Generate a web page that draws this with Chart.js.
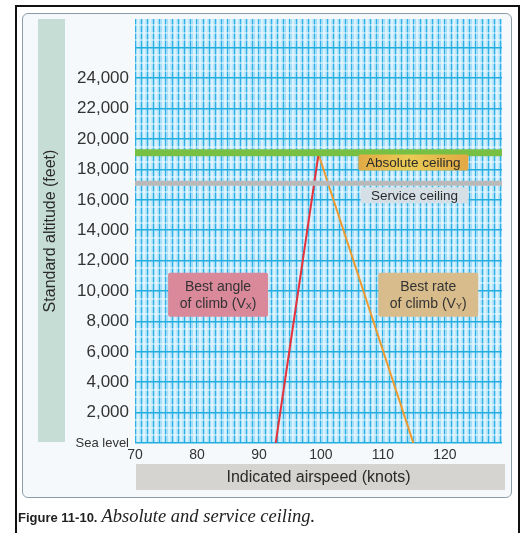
<!DOCTYPE html>
<html>
<head>
<meta charset="utf-8">
<script src="https://cdn.jsdelivr.net/npm/chart.js@4"></script>
<style>
  body { margin: 0; background: #fff; }
  #wrap { position: relative; width: 527px; height: 533px; overflow: hidden; }
  #frame { position: absolute; left: 15px; top: 5px; width: 505px; height: 560px; border: 2px solid #111; border-bottom: none; box-sizing: border-box; }
  #panel { position: absolute; left: 22px; top: 13px; width: 490px; height: 485px; border: 1.5px solid #8c9daa; border-radius: 6px; background: #f6f9fb; box-sizing: border-box; }
  #grafico { position: absolute; left: 0; top: 0; }
  #caption { position: absolute; left: 18px; top: 506px; white-space: nowrap; color: #222; }
  #caption b { font: bold 13px "Liberation Sans", Arial, sans-serif; }
  #caption i { font: italic 18.5px "Liberation Serif", "Times New Roman", serif; }
</style>
</head>
<body>
<div id="wrap">
  <div id="frame"></div>
  <div id="panel"></div>
  <canvas id="grafico" width="527" height="533"></canvas>
  <div id="caption"><b>Figure 11-10.</b> <i>Absolute and service ceiling.</i></div>
</div>
<script>
// Absolute and service ceiling - dados

const xMin = 70;
const xMax = 129.2;
const yMax = 27900;

const airspeedTicks = [70, 80, 90, 100, 110, 120];
const altitudeTicks = [0, 2000, 4000, 6000, 8000, 10000, 12000, 14000, 16000, 18000, 20000, 22000, 24000];
const altitudeLabels = ['Sea level', '2,000', '4,000', '6,000', '8,000', '10,000', '12,000', '14,000', '16,000', '18,000', '20,000', '22,000', '24,000'];

// Vx (best angle) e Vy (best rate)
const vxSpeed = [92.7, 99.6];
const vxAltitude = [0, 19000];
const vySpeed = [99.6, 114.9];
const vyAltitude = [19000, 0];

const absoluteCeiling = 19100;
const serviceCeiling = 17100;

const ceilingLabels = ['Absolute ceiling', 'Service ceiling'];
const climbLabels = [['Best angle', 'of climb (V', 'X', ')'], ['Best rate', 'of climb (V', 'Y', ')']];

function pontos(xs, ys) {
  return xs.map((x, i) => ({ x: x, y: ys[i] }));
}

// linhas da grade: passo fixo entre min e max
function grade(min, max, passo) {
  const t = [];
  for (let v = min; v <= max + 1e-9; v += passo) t.push({ value: Math.round(v * 100) / 100 });
  return t;
}

const FONTE = '"Liberation Sans", Arial, Helvetica, sans-serif';

// fundo, faixas dos titulos
const fundo = {
  id: 'fundo',
  beforeDraw(chart) {
    const ctx = chart.ctx;
    const a = chart.chartArea;
    ctx.save();
    ctx.fillStyle = '#c6ddd5';
    ctx.fillRect(38, a.top, 27, a.bottom - a.top - 1);
    ctx.fillStyle = '#d6d4d0';
    ctx.fillRect(a.left + 1, 464, 369, 26);
    ctx.fillStyle = '#a4ddf7';
    ctx.fillRect(a.left, a.top, a.right - a.left, a.bottom - a.top);
    ctx.restore();
  }
};

function caixa(ctx, cx, cy, w, h, fill) {
  ctx.fillStyle = fill;
  ctx.beginPath();
  ctx.roundRect(cx - w / 2, cy - h / 2, w, h, 2);
  ctx.fill();
}

function textoSub(ctx, partes, cx, y) {
  ctx.font = '14px ' + FONTE;
  const w1 = ctx.measureText(partes[0]).width;
  ctx.font = '9px ' + FONTE;
  const ws = ctx.measureText(partes[1]).width;
  ctx.font = '14px ' + FONTE;
  const w2 = ctx.measureText(partes[2]).width;
  let x = cx - (w1 + ws + w2) / 2;
  ctx.textAlign = 'left';
  ctx.fillText(partes[0], x, y);
  x += w1;
  ctx.font = '9px ' + FONTE;
  ctx.fillText(partes[1], x, y + 3);
  x += ws;
  ctx.font = '14px ' + FONTE;
  ctx.fillText(partes[2], x, y);
}

const rotulos = {
  id: 'rotulos',
  afterDatasetsDraw(chart) {
    const ctx = chart.ctx;
    const xs = chart.scales.x;
    const ys = chart.scales.y;
    ctx.save();
    ctx.textBaseline = 'middle';
    ctx.textAlign = 'center';

    // Absolute ceiling
    let cx = xs.getPixelForValue(114.9);
    let cy = ys.getPixelForValue(18450);
    const g = ctx.createLinearGradient(cx - 55, 0, cx + 55, 0);
    g.addColorStop(0, '#e2aa45');
    g.addColorStop(0.45, '#e9cc55');
    g.addColorStop(1, '#e2a845');
    caixa(ctx, cx, cy, 110, 16, g);
    ctx.fillStyle = '#2a2a2a';
    ctx.font = '13.5px ' + FONTE;
    ctx.fillText(ceilingLabels[0], cx, cy + 1);

    // Service ceiling
    cx = xs.getPixelForValue(115.1);
    cy = ys.getPixelForValue(16300);
    caixa(ctx, cx, cy, 108, 16, '#d4e0e6');
    ctx.fillStyle = '#2a2a2a';
    ctx.fillText(ceilingLabels[1], cx, cy + 1);

    // Best angle / best rate
    const cores = ['#d9899a', '#d9bc8b'];
    const centros = [83.4, 117.3];
    for (let i = 0; i < climbLabels.length; i++) {
      cx = xs.getPixelForValue(centros[i]);
      cy = ys.getPixelForValue(9750);
      caixa(ctx, cx, cy, 100, 44, cores[i]);
      ctx.fillStyle = '#333';
      ctx.font = '14px ' + FONTE;
      ctx.textAlign = 'center';
      ctx.fillText(climbLabels[i][0], cx, cy - 8);
      textoSub(ctx, climbLabels[i].slice(1), cx, cy + 9);
    }
    ctx.restore();
  }
};

new Chart(document.getElementById('grafico'), {
  type: 'line',
  data: {
    datasets: [
      {
        label: 'Absolute ceiling',
        data: pontos([xMin, xMax], [absoluteCeiling, absoluteCeiling]),
        borderColor: '#78c044',
        borderWidth: 7,
        pointRadius: 0
      }, {
        label: 'Absolute ceiling core',
        data: pontos([xMin, xMax], [absoluteCeiling, absoluteCeiling]),
        borderColor: '#e0c84a',
        borderWidth: 3,
        pointRadius: 0
      }, {
        label: 'Service ceiling',
        data: pontos([xMin, xMax], [serviceCeiling, serviceCeiling]),
        borderColor: '#b9b9b9',
        borderWidth: 5,
        pointRadius: 0
      }, {
        label: 'Service ceiling core',
        data: pontos([xMin, xMax], [serviceCeiling, serviceCeiling]),
        borderColor: '#dcdcdc',
        borderWidth: 2,
        pointRadius: 0
      }, {
        label: 'Vx',
        data: pontos(vxSpeed, vxAltitude),
        borderColor: '#e5323c',
        borderWidth: 2,
        pointRadius: 0
      }, {
        label: 'Vy',
        data: pontos(vySpeed, vyAltitude),
        borderColor: '#ee9a2e',
        borderWidth: 2,
        pointRadius: 0
      }
    ]
  },
  options: {
    responsive: false,
    animation: false,
    layout: { padding: { left: 0, top: 19, right: 25, bottom: 0 } },
    plugins: {
      legend: { display: false },
      tooltip: { enabled: false }
    },
    scales: {
      x: {
        type: 'linear',
        min: xMin,
        max: xMax,
        border: { display: false },
        afterBuildTicks: (s) => { s.ticks = grade(xMin, xMax, 0.5); },
        grid: {
          drawTicks: false,
          color: (c) => c.tick.value % 1 === 0 ? '#2cb0e6' : 'rgba(238,250,255,0.7)',
          lineWidth: (c) => c.tick.value % 1 === 0 ? 1 : 2.5
        },
        ticks: {
          autoSkip: false,
          maxRotation: 0,
          minRotation: 0,
          padding: 4,
          color: '#333',
          font: { size: 14, family: FONTE },
          callback: (v) => airspeedTicks.includes(v) ? String(v) : ''
        },
        title: {
          display: true,
          text: 'Indicated airspeed (knots)',
          color: '#2a2a2a',
          font: { size: 16, family: FONTE },
          padding: { top: 0, bottom: 46 }
        },
        afterFit: (s) => { s.height = 90; }
      },
      y: {
        type: 'linear',
        min: 0,
        max: yMax,
        border: { display: false },
        afterBuildTicks: (s) => { s.ticks = grade(0, yMax, 500); },
        grid: {
          drawTicks: false,
          color: (c) => c.tick.value % 2000 === 0 ? '#22addf' : 'rgba(238,250,255,0.5)',
          lineWidth: (c) => c.tick.value % 2000 === 0 ? 1.6 : 2
        },
        ticks: {
          autoSkip: false,
          padding: 6,
          color: '#333',
          font: (c) => (c.tick && c.tick.value === 0) ? { size: 13, family: FONTE } : { size: 17, family: FONTE },
          callback: (v) => {
            const i = altitudeTicks.indexOf(v);
            return i >= 0 ? altitudeLabels[i] : '';
          }
        },
        title: {
          display: true,
          text: 'Standard altitude (feet)',
          color: '#2a2a2a',
          font: { size: 16, family: FONTE },
          padding: { top: 41, bottom: 0 }
        },
        afterFit: (s) => { s.width = 135; }
      }
    }
  },
  plugins: [fundo, rotulos]
});
</script>
</body>
</html>
